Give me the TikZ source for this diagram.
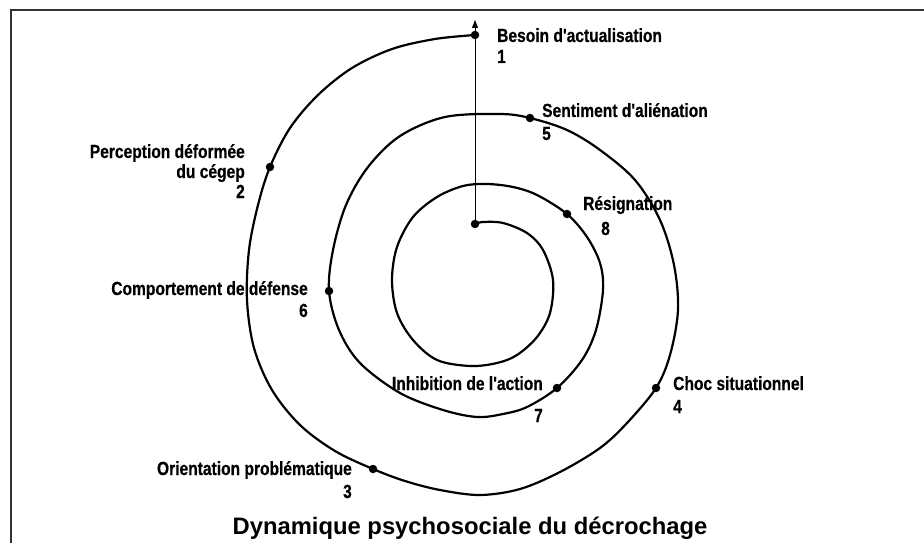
\documentclass[tikz,border=0pt]{standalone}
\usepackage{fontspec}
\setmainfont{Liberation Sans}
\newfontfamily\narrowfont[FakeStretch=0.82,FakeBold=0.5]{Liberation Sans}
\usetikzlibrary{arrows.meta}
\begin{document}
\begin{tikzpicture}[x=1pt,y=-1pt,
  lbl/.style={font=\narrowfont\bfseries\fontsize{19}{21}\selectfont, inner sep=0pt},
  dot/.style={circle,fill=black,inner sep=0pt,minimum size=8.5pt},
  spiralline/.style={line width=2.2pt,line join=round,line cap=round},
  frameline/.style={line width=2pt,draw=black!80},
  titletext/.style={font=\bfseries\fontsize{23.8}{26}\selectfont, inner sep=0pt}
]
\useasboundingbox (0,0) rectangle (924,543);
% frame
\coordinate (ftl) at (11,10.5);
\coordinate (ftr) at (924,10.5);
\coordinate (fbl) at (11,543);
\draw[frameline] (ftr) -- (ftl) -- (fbl);

% spiral
\draw[spiralline] plot[smooth,tension=0.55] coordinates {
 (475,224) (483,222) (503,223) (527,233) (543,250) (553,280) (550,313) (537,337) (517,355) (497,363) (470,366) (437,360) (413,340) (397,313) (392,280) (397,247) (413,217) (437,197) (463,186) (487,184) (513,187) (537,195) (567,214)
 (587,237) (600,263) (603,290) (596,330) (582,360) (557,388) (527,407) (503,414) (477,417) (443,410) (400,393) (360,363) (339,330) (329,291) (333,250) (346,205) (368,167) (400,136) (445,117) (500,114) (530,118)
 (567,130) (600,150) (635,180) (660,220) (674,265) (678,310) (670,355) (656,388) (627,423) (600,448) (560,472) (520,489) (480,495) (440,490) (405,481) (373,469)
 (335,451) (300,425) (272,390) (254,348) (247,300) (249,250) (258,205) (270,167) (290,128) (318,95) (352,68) (392,49) (435,39) (475,35)
};

% dots
\node[dot] (c0) at (475,224) {};
\node[dot] (d1) at (475,35) {};
\node[dot] (d2) at (270,167) {};
\node[dot] (d3) at (373,469) {};
\node[dot] (d4) at (656,388) {};
\node[dot] (d5) at (530,118) {};
\node[dot] (d6) at (329,291) {};
\node[dot] (d7) at (557,388) {};
\node[dot] (d8) at (567,214) {};

% vertical arrow
\coordinate (arrtip) at (475,20);
\draw[line width=0.8pt,-{Triangle[width=6pt,length=8pt]}] (c0.center) -- (arrtip);

% labels
\node[lbl,anchor=base west] (l1) at (497,42) {Besoin d'actualisation};
\node[lbl,anchor=base west] (n1) at (497,63) {1};
\node[lbl,anchor=base east] (l2a) at (245,158) {Perception déformée};
\node[lbl,anchor=base east] (l2b) at (245,178) {du cégep};
\node[lbl,anchor=base east] (n2) at (245,198) {2};
\node[lbl,anchor=base east] (l3) at (352,475) {Orientation problématique};
\node[lbl,anchor=base east] (n3) at (352,498) {3};
\node[lbl,anchor=base west] (l4) at (673,390) {Choc situationnel};
\node[lbl,anchor=base west] (n4) at (673,413) {4};
\node[lbl,anchor=base west] (l5) at (542,117) {Sentiment d'aliénation};
\node[lbl,anchor=base west] (n5) at (542,140) {5};
\node[lbl,anchor=base east] (l6) at (308,295) {Comportement de défense};
\node[lbl,anchor=base east] (n6) at (308,317) {6};
\node[lbl,anchor=base east] (l7) at (543,390) {Inhibition de l'action};
\node[lbl,anchor=base east] (n7) at (543,422) {7};
\node[lbl,anchor=base west] (l8) at (583,210) {Résignation};
\node[lbl,anchor=base west] (n8) at (601,235) {8};

% title
\node[titletext,anchor=base] (title) at (470,534) {Dynamique psychosociale du décrochage};
\end{tikzpicture}
\end{document}
